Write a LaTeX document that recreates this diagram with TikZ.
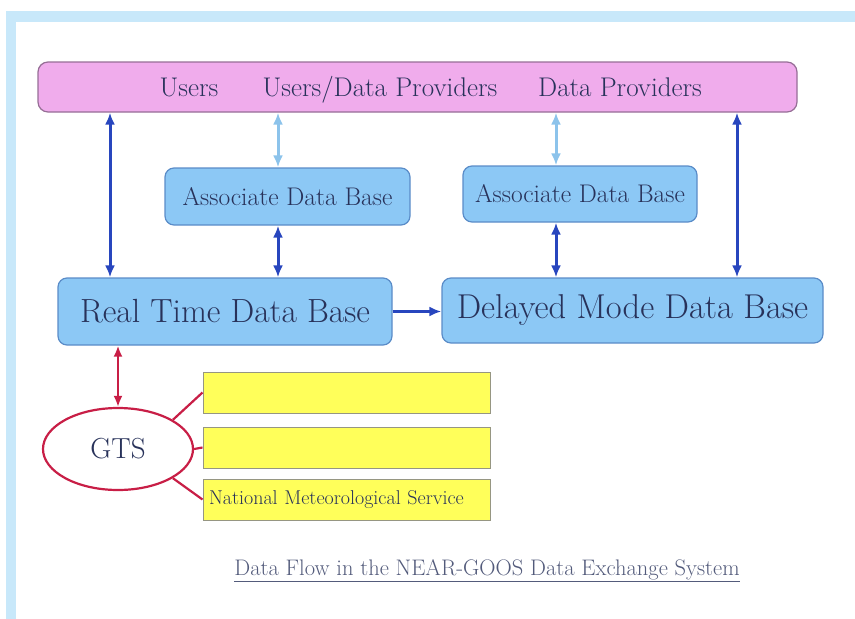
\documentclass[tikz,border=0pt]{standalone}
\usepackage{xcolor}
\usepackage{tikz}
\usetikzlibrary{arrows.meta, positioning, calc, shapes}
\definecolor{framebl}{RGB}{200, 232, 250}
\definecolor{userpink}{RGB}{240, 172, 236}
\definecolor{userline}{RGB}{150, 110, 150}
\definecolor{dbfill}{RGB}{140, 200, 245}
\definecolor{dbline}{RGB}{90, 140, 200}
\definecolor{flowdark}{RGB}{40, 70, 190}
\definecolor{flowlight}{RGB}{140, 195, 235}
\definecolor{gtsred}{RGB}{200, 30, 70}
\definecolor{nmsyellow}{RGB}{255, 255, 90}
\definecolor{nmsline}{RGB}{150, 150, 130}
\definecolor{labelnavy}{RGB}{40, 50, 90}

\begin{document}
\begin{tikzpicture}[x=1pt, y=-1pt,
        dbbox/.style={draw=dbline, line width=1.2pt, fill=dbfill, rounded corners=9pt,
            inner sep=0pt, text=labelnavy},
        nmsbox/.style={draw=nmsline, line width=1pt, fill=nmsyellow, inner sep=0pt,
            minimum width=287pt, minimum height=41pt},
        userlabel/.style={text=labelnavy, anchor=base, font=\fontsize{27}{27}\selectfont},
        dflow/.style={line width=3pt, flowdark, {Latex[length=12pt,width=10pt]}-{Latex[length=12pt,width=10pt]}},
        lflow/.style={line width=3pt, flowlight, {Latex[length=12pt,width=10pt]}-{Latex[length=12pt,width=10pt]}},
        gtsline/.style={line width=2.2pt, gtsred}]
        \useasboundingbox (0,0) rectangle (855,619);

        % frame
        \fill[framebl] (6,11) rectangle (855,22);
        \fill[framebl] (6,11) rectangle (16,619);

        % users / providers
        \node[draw=userline, line width=1.2pt, fill=userpink, rounded corners=10pt,
            minimum width=759pt, minimum height=50pt] (users) at (417.5,87) {};
        \node[userlabel] (usr) at (189,96) {Users};
        \node[userlabel] (usrprov) at (380,96) {Users/Data Providers};
        \node[userlabel] (prov) at (620,96) {Data Providers};

        % data bases
        \node[dbbox, minimum width=245pt, minimum height=57pt, font=\fontsize{25.5}{25.5}\selectfont]
            (adbA) at (287.5,196.5) {Associate Data Base};
        \node[dbbox, minimum width=234pt, minimum height=56pt, font=\fontsize{25.5}{25.5}\selectfont]
            (adbB) at (580,194) {Associate Data Base};
        \node[dbbox, minimum width=334pt, minimum height=67pt, font=\fontsize{33.5}{33.5}\selectfont]
            (rtdb) at (225,311.5) {Real Time Data Base};
        \node[dbbox, minimum width=381pt, minimum height=65pt, font=\fontsize{34.5}{34.5}\selectfont]
            (dmdb) at (632.5,310.5) {Delayed Mode Data Base};

        % GTS and its members
        \node[ellipse, draw=gtsred, line width=2.2pt, fill=white, minimum width=150pt, minimum height=82pt,
            text=labelnavy, font=\fontsize{29}{29}\selectfont] (gts) at (118,449) {GTS};
        \node[nmsbox] (nmsA) at (346.5,392.5) {};
        \node[nmsbox] (nmsB) at (346.5,447.5) {};
        \node[nmsbox, text width=275pt, inner xsep=6pt, align=left, text=labelnavy,
            font=\fontsize{20}{20}\selectfont] (nmsC) at (346.5,499.5) {National Meteorological Service};

        % caption
        \node[text=labelnavy!80, font=\fontsize{22.5}{22.5}\selectfont] (caption) at (487,571)
            {\underline{Data Flow in the NEAR-GOOS Data Exchange System}};

        % columns of the arrows
        \coordinate (colA) at (110,0);
        \coordinate (colB) at (278,0);
        \coordinate (colC) at (556,0);
        \coordinate (colD) at (737,0);

        \draw[dflow] (users.south -| colA) -- (rtdb.north -| colA);
        \draw[lflow] (users.south -| colB) -- (adbA.north -| colB);
        \draw[dflow] (adbA.south -| colB) -- (rtdb.north -| colB);
        \draw[lflow] (users.south -| colC) -- (adbB.north -| colC);
        \draw[dflow] (adbB.south -| colC) -- (dmdb.north -| colC);
        \draw[dflow] (users.south -| colD) -- (dmdb.north -| colD);
        \draw[line width=3pt, flowdark, -{Latex[length=12pt,width=10pt]}] (rtdb.east) -- (rtdb.east -| dmdb.west);

        % GTS links
        \draw[gtsline, {Latex[length=11pt,width=9pt]}-{Latex[length=11pt,width=9pt]}] (gts.north) -- (gts.north |- rtdb.south);
        \draw[gtsline] (gts.28) -- (nmsA.west);
        \draw[gtsline] (gts.east) -- (nmsB.west);
        \draw[gtsline] (gts.-28) -- (nmsC.west);
    \end{tikzpicture}
\end{document}
